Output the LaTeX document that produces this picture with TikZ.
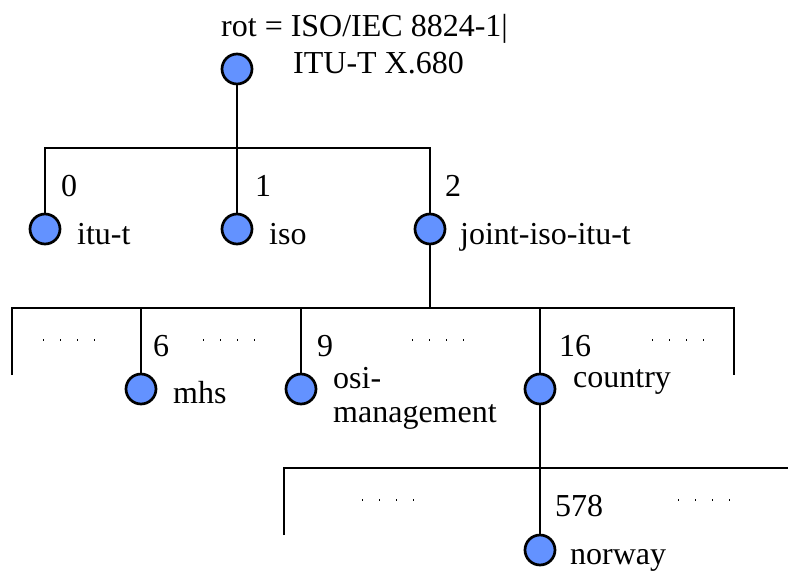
\documentclass[tikz,border=0pt]{standalone}
\usepackage{fontspec}
\setmainfont{Liberation Serif}
\definecolor{nodeblue}{RGB}{99,146,255}
\begin{document}
\begin{tikzpicture}[x=1pt,y=-1pt,
  oid/.style={circle,draw=black,fill=nodeblue,line width=2.7pt,minimum size=30pt,inner sep=0pt},
  lbl/.style={anchor=base west,inner sep=0pt,font=\fontsize{32}{38}\selectfont},
  link/.style={line width=2.7pt},
  more/.style={line width=1.3pt,dash pattern=on 1.3pt off 15.7pt}]
\useasboundingbox (0,0) rectangle (788,571);

% root
\node[oid] (root) at (237,69) {};
\node[lbl] (rt1) at (221,36) {rot = ISO/IEC 8824-1|};
\node[lbl] (rt2) at (293,73) {ITU-T X.680};

% level 1
\node[oid] (itut) at (45,229) {};
\node[oid] (iso) at (237,229) {};
\node[oid] (joint) at (430,229) {};
\coordinate (b1l) at (45,148);
\coordinate (b1m) at (237,148);
\coordinate (b1r) at (430,148);
\draw[link] (root.south) -- (b1m);
\draw[link] (itut.north) -- (b1l) -- (b1r) -- (joint.north);
\draw[link] (b1m) -- (iso.north);
\node[lbl] (n0) at (61,196) {0};
\node[lbl] (n1) at (255,196) {1};
\node[lbl] (n2) at (445,196) {2};
\node[lbl] (litut) at (77,244) {itu-t};
\node[lbl] (liso) at (269,244) {iso};
\node[lbl] (ljoint) at (460,244) {joint-iso-itu-t};

% level 2
\node[oid] (mhs) at (141,389) {};
\node[oid] (osi) at (301,389) {};
\node[oid] (country) at (540,389) {};
\coordinate (b2m) at (430,308);
\coordinate (b2l) at (12,308);
\coordinate (b2r) at (734,308);
\coordinate (e2l) at (12,375);
\coordinate (e2r) at (734,375);
\draw[link] (joint.south) -- (b2m);
\draw[link] (e2l) -- (b2l) -- (b2r) -- (e2r);
\draw[link] (mhs.north |- b2l) -- (mhs.north);
\draw[link] (osi.north |- b2l) -- (osi.north);
\draw[link] (country.north |- b2l) -- (country.north);
\coordinate (d1a) at (43,340); \coordinate (d1b) at (96,340);
\coordinate (d2a) at (203,340); \coordinate (d2b) at (256,340);
\coordinate (d3a) at (412,340); \coordinate (d3b) at (465,340);
\coordinate (d4a) at (652,340); \coordinate (d4b) at (705,340);
\draw[more] (d1a) -- (d1b);
\draw[more] (d2a) -- (d2b);
\draw[more] (d3a) -- (d3b);
\draw[more] (d4a) -- (d4b);
\node[lbl] (n6) at (153,356) {6};
\node[lbl] (n9) at (317,356) {9};
\node[lbl] (n16) at (559,356) {16};
\node[lbl] (lmhs) at (173,403) {mhs};
\node[lbl] (losi) at (333,388) {osi-};
\node[lbl] (lmgmt) at (333,422) {management};
\node[lbl] (lcountry) at (573,387) {country};

% level 3
\node[oid] (norway) at (540,550) {};
\coordinate (b3m) at (540,468);
\coordinate (b3l) at (284,468);
\coordinate (b3r) at (788,468);
\coordinate (e3l) at (284,535);
\draw[link] (country.south) -- (norway.north);
\draw[link] (e3l) -- (b3l) -- (b3r);
\coordinate (d5a) at (362,500); \coordinate (d5b) at (415,500);
\coordinate (d6a) at (678,500); \coordinate (d6b) at (731,500);
\draw[more] (d5a) -- (d5b);
\draw[more] (d6a) -- (d6b);
\node[lbl] (n578) at (555,516) {578};
\node[lbl] (lnorway) at (570,564) {norway};
\end{tikzpicture}
\end{document}
